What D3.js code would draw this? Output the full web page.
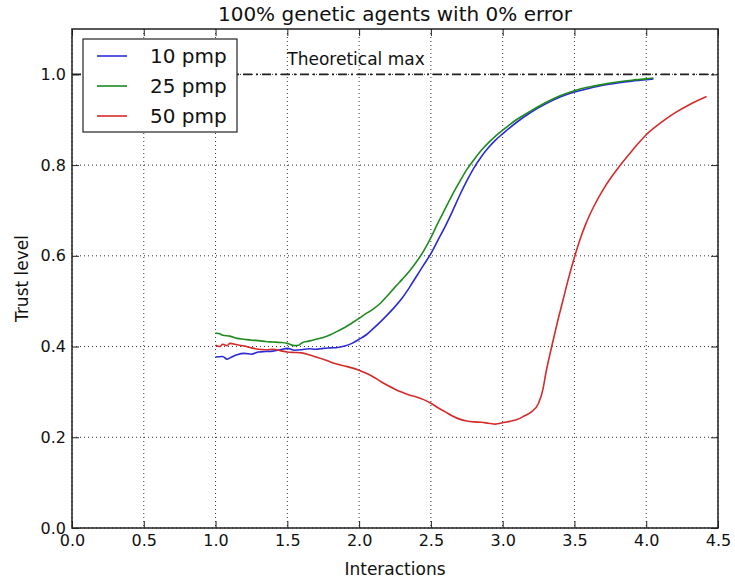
<!DOCTYPE html>
<html>
<head>
<meta charset="utf-8">
<script src="https://cdn.jsdelivr.net/npm/d3@7"></script>
<style>
  body { margin: 0; background: #fff; }
  svg { font-family: "DejaVu Sans", sans-serif; }
</style>
</head>
<body>
<svg id="chart" width="735" height="582"></svg>
<script>
// series
const x10 = [1.00, 1.05, 1.08, 1.10, 1.15, 1.20, 1.25, 1.30, 1.35, 1.40, 1.45, 1.50, 1.55, 1.60, 1.65, 1.70, 1.75, 1.80, 1.85, 1.90, 1.95, 2.00, 2.05, 2.10, 2.15, 2.20, 2.25, 2.30, 2.35, 2.40, 2.45, 2.50, 2.55, 2.60, 2.65, 2.70, 2.75, 2.80, 2.85, 2.90, 2.95, 3.00, 3.10, 3.20, 3.30, 3.40, 3.50, 3.60, 3.70, 3.80, 3.90, 4.00, 4.05];
const y10 = [0.377, 0.378, 0.372, 0.375, 0.382, 0.385, 0.383, 0.388, 0.389, 0.390, 0.393, 0.396, 0.392, 0.393, 0.395, 0.394, 0.396, 0.397, 0.398, 0.401, 0.407, 0.416, 0.426, 0.440, 0.455, 0.471, 0.488, 0.507, 0.530, 0.555, 0.580, 0.605, 0.635, 0.665, 0.698, 0.733, 0.765, 0.794, 0.818, 0.838, 0.855, 0.869, 0.895, 0.917, 0.935, 0.950, 0.961, 0.969, 0.976, 0.981, 0.985, 0.988, 0.990];

const x25 = [1.00, 1.03, 1.05, 1.10, 1.15, 1.20, 1.25, 1.30, 1.35, 1.40, 1.45, 1.50, 1.55, 1.58, 1.60, 1.65, 1.70, 1.75, 1.80, 1.85, 1.90, 1.95, 2.00, 2.05, 2.10, 2.15, 2.20, 2.25, 2.30, 2.35, 2.40, 2.45, 2.50, 2.55, 2.60, 2.65, 2.70, 2.75, 2.80, 2.85, 2.90, 2.95, 3.00, 3.10, 3.20, 3.30, 3.40, 3.50, 3.60, 3.70, 3.80, 3.90, 4.00, 4.05];
const y25 = [0.430, 0.428, 0.425, 0.423, 0.418, 0.416, 0.414, 0.413, 0.411, 0.410, 0.409, 0.407, 0.402, 0.403, 0.408, 0.412, 0.416, 0.420, 0.426, 0.434, 0.442, 0.452, 0.462, 0.473, 0.483, 0.496, 0.513, 0.531, 0.548, 0.566, 0.587, 0.611, 0.640, 0.673, 0.704, 0.735, 0.763, 0.790, 0.812, 0.832, 0.849, 0.864, 0.877, 0.901, 0.920, 0.938, 0.953, 0.964, 0.972, 0.978, 0.983, 0.987, 0.990, 0.992];

const x50 = [1.00, 1.03, 1.05, 1.08, 1.10, 1.15, 1.20, 1.25, 1.30, 1.35, 1.40, 1.45, 1.50, 1.55, 1.60, 1.65, 1.70, 1.75, 1.80, 1.85, 1.90, 1.95, 2.00, 2.05, 2.10, 2.15, 2.20, 2.25, 2.30, 2.35, 2.40, 2.45, 2.50, 2.55, 2.60, 2.65, 2.70, 2.75, 2.80, 2.85, 2.90, 2.95, 3.00, 3.05, 3.10, 3.15, 3.20, 3.25, 3.28, 3.30, 3.34, 3.38, 3.42, 3.46, 3.50, 3.54, 3.58, 3.64, 3.70, 3.76, 3.82, 3.91, 4.00, 4.10, 4.20, 4.30, 4.42];
const y50 = [0.403, 0.400, 0.405, 0.402, 0.407, 0.404, 0.401, 0.397, 0.394, 0.393, 0.394, 0.391, 0.388, 0.387, 0.386, 0.382, 0.377, 0.372, 0.366, 0.361, 0.357, 0.353, 0.348, 0.341, 0.333, 0.323, 0.314, 0.306, 0.299, 0.293, 0.289, 0.283, 0.275, 0.265, 0.256, 0.247, 0.240, 0.236, 0.234, 0.233, 0.231, 0.229, 0.232, 0.235, 0.239, 0.247, 0.256, 0.275, 0.305, 0.340, 0.398, 0.452, 0.502, 0.552, 0.597, 0.637, 0.671, 0.712, 0.746, 0.775, 0.800, 0.835, 0.867, 0.893, 0.915, 0.933, 0.951];

const seriesNames = ["10 pmp", "25 pmp", "50 pmp"];
const seriesColors = ["#2b2bd6", "#1f8a1f", "#d62b2b"];
const xTicks = [0, 0.5, 1, 1.5, 2, 2.5, 3, 3.5, 4, 4.5];
const yTicks = [0, 0.2, 0.4, 0.6, 0.8, 1.0];
const theoreticalMax = 1.0;

const series = [[x10, y10], [x25, y25], [x50, y50]].map(([xs, ys], i) => ({
  name: seriesNames[i],
  color: seriesColors[i],
  points: xs.map((x, j) => [x, ys[j]])
}));

const width = 735, height = 582;
const margin = { top: 29, right: 17, bottom: 54, left: 72 };
const innerW = width - margin.left - margin.right;
const innerH = height - margin.top - margin.bottom;

const svg = d3.select("#chart");
const g = svg.append("g").attr("transform", `translate(${margin.left},${margin.top})`);

const x = d3.scaleLinear().domain([0, 4.5]).range([0, innerW]);
const y = d3.scaleLinear().domain([0, 1.1]).range([innerH, 0]);

// dotted grid
g.append("g")
  .selectAll("line")
  .data(xTicks)
  .join("line")
  .attr("x1", d => x(d)).attr("x2", d => x(d))
  .attr("y1", 0).attr("y2", innerH)
  .attr("stroke", "#333").attr("stroke-width", 1).attr("stroke-dasharray", "1,3");
g.append("g")
  .selectAll("line")
  .data(yTicks)
  .join("line")
  .attr("x1", 0).attr("x2", innerW)
  .attr("y1", d => y(d)).attr("y2", d => y(d))
  .attr("stroke", "#333").attr("stroke-width", 1).attr("stroke-dasharray", "1,3");

// theoretical max line
g.append("line")
  .attr("x1", x(0)).attr("x2", x(4.5))
  .attr("y1", y(theoreticalMax)).attr("y2", y(theoreticalMax))
  .attr("stroke", "#222").attr("stroke-width", 1.6)
  .attr("stroke-dasharray", "9,4,2,4");

g.append("text")
  .attr("x", x(1.5)).attr("y", y(1.02))
  .attr("font-size", 17).attr("fill", "#111")
  .text("Theoretical max");

const line = d3.line().x(d => x(d[0])).y(d => y(d[1])).curve(d3.curveMonotoneX);

g.append("g")
  .selectAll("path")
  .data(series)
  .join("path")
  .attr("d", d => line(d.points))
  .attr("fill", "none")
  .attr("stroke", d => d.color)
  .attr("stroke-width", 1.6)
  .attr("stroke-linejoin", "round");

// axes, ticks pointing inward on all four sides
const fmt = d3.format(".1f");
const axB = g.append("g").attr("transform", `translate(0,${innerH})`)
  .call(d3.axisBottom(x).tickValues(xTicks).tickFormat(fmt).tickSizeInner(-7).tickSizeOuter(0).tickPadding(7));
const axL = g.append("g")
  .call(d3.axisLeft(y).tickValues(yTicks).tickFormat(fmt).tickSizeInner(-7).tickSizeOuter(0).tickPadding(6));
g.append("g")
  .call(d3.axisTop(x).tickValues(xTicks).tickFormat("").tickSizeInner(-7).tickSizeOuter(0));
g.append("g").attr("transform", `translate(${innerW},0)`)
  .call(d3.axisRight(y).tickValues(yTicks).tickFormat("").tickSizeInner(-7).tickSizeOuter(0));

g.selectAll(".domain").remove();
g.selectAll(".tick line").attr("stroke", "#222").attr("stroke-width", 1);
[axB, axL].forEach(a => a.selectAll("text")
  .attr("font-size", 16).attr("fill", "#111")
  .attr("font-family", "DejaVu Sans, sans-serif"));

g.append("rect")
  .attr("width", innerW).attr("height", innerH)
  .attr("fill", "none").attr("stroke", "#222").attr("stroke-width", 1.5);

// labels
svg.append("text")
  .attr("x", margin.left + innerW / 2).attr("y", 21)
  .attr("text-anchor", "middle").attr("font-size", 20).attr("fill", "#111")
  .text("100% genetic agents with 0% error");
svg.append("text")
  .attr("x", margin.left + innerW / 2).attr("y", 575)
  .attr("text-anchor", "middle").attr("font-size", 17).attr("fill", "#111")
  .text("Interactions");
svg.append("text")
  .attr("transform", `translate(28,${margin.top + innerH / 2}) rotate(-90)`)
  .attr("text-anchor", "middle").attr("font-size", 17).attr("fill", "#111")
  .text("Trust level");

// legend
const legend = svg.append("g").attr("transform", "translate(83,39)");
legend.append("rect")
  .attr("width", 154).attr("height", 93)
  .attr("fill", "#fff").attr("stroke", "#222").attr("stroke-width", 1.2);
const item = legend.selectAll("g.item")
  .data(series)
  .join("g")
  .attr("class", "item")
  .attr("transform", (d, i) => `translate(0,${17 + i * 30})`);
item.append("line")
  .attr("x1", 14).attr("x2", 44)
  .attr("stroke", d => d.color).attr("stroke-width", 1.6);
item.append("text")
  .attr("x", 67).attr("dy", "0.35em")
  .attr("font-size", 20).attr("fill", "#111")
  .text(d => d.name);
</script>
</body>
</html>
